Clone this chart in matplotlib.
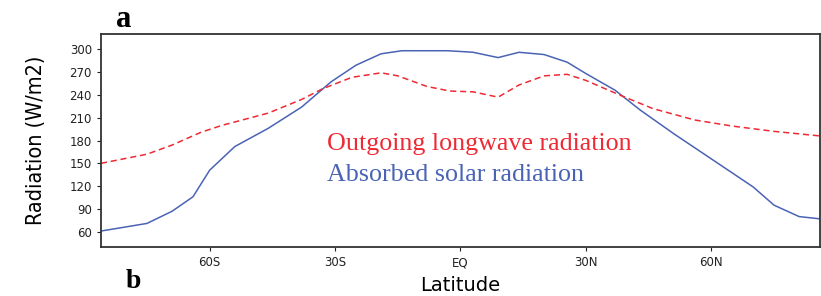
import numpy as np
import matplotlib
matplotlib.use("Agg")
import matplotlib.pyplot as plt

# absorbed solar radiation (W/m2) vs latitude
lat_sw = [-86, -75, -69, -64, -60, -54, -46, -38, -31, -25, -19, -14,
          -3, 3, 9, 14, 20, 25.5, 30, 37, 43, 51, 60.5, 70, 75, 81, 86]
asr = [61, 71, 87, 106, 141, 172, 196, 224, 257, 279, 294, 298,
       298, 296, 289, 296, 293, 283, 268, 246, 220, 189, 154, 119, 95, 80, 77]

# outgoing longwave radiation (W/m2) vs latitude
lat_lw = [-86, -75, -69, -62, -57, -46, -38, -33, -26, -19, -15, -8,
          -2.5, 3, 9, 14, 20, 25.5, 30, 38, 46, 56, 65, 75, 86]
olr = [150, 162, 174, 191, 200, 216, 234, 248, 263, 269, 265, 251,
       245, 244, 237, 253, 265, 267, 259, 240, 222, 207, 199, 192, 186]

xticks = [-60, -30, 0, 30, 60]
xticklabels = ["60S", "30S", "EQ", "30N", "60N"]
yticks = list(range(60, 301, 30))

blue = "#4a63b4"
red = "#ee2a35"

fig = plt.figure(figsize=(8.21, 2.96), dpi=100)
ax = fig.add_axes([0.123, 0.1655, 0.8758, 0.7196])

ax.plot(lat_sw, asr, color=blue, lw=1.1)
ax.plot(lat_lw, olr, color=red, lw=1.1, ls=(0, (4, 2.5)))

ax.set_xlim(-86, 86)
ax.set_ylim(40, 320)
ax.set_xticks(xticks)
ax.set_xticklabels(xticklabels)
ax.set_yticks(yticks)
ax.tick_params(labelsize=8.5, length=3, width=0.8, colors="#222222")
for s in ax.spines.values():
    s.set_linewidth(1.3)
    s.set_color("#333333")

ax.set_xlabel("Latitude", fontsize=14, labelpad=5)
ax.set_ylabel("Radiation (W/m2)", fontsize=15.5, fontstretch="condensed", labelpad=17)

ax.text(0.314, 0.455, "Outgoing longwave radiation", transform=ax.transAxes,
        color=red, fontsize=18.7, family="Liberation Serif")
ax.text(0.314, 0.31, "Absorbed solar radiation", transform=ax.transAxes,
        color=blue, fontsize=18.7, family="Liberation Serif")

fig.text(0.151, 0.935, "a", fontsize=22, fontweight="bold", family="Liberation Serif",
         ha="center", va="center")
fig.text(0.162, 0.05, "b", fontsize=20, fontweight="bold", family="Liberation Serif",
         ha="center", va="center")

plt.savefig("out.png", dpi=100)
plt.close()
